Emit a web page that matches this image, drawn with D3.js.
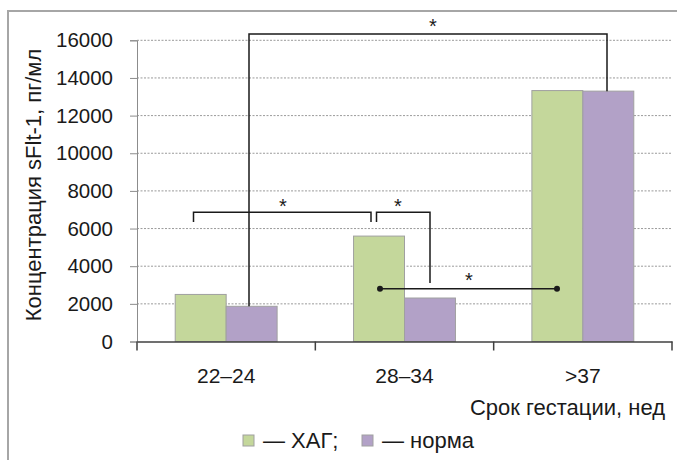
<!DOCTYPE html>
<html><head><meta charset="utf-8">
<script src="https://cdn.jsdelivr.net/npm/d3@7/dist/d3.min.js"></script>
<style>body{margin:0;background:#fff;} svg{display:block;} text{font-family:"Liberation Sans",Arial,sans-serif;fill:#1a1a1a;}</style>
</head><body>
<svg id="c" width="677" height="460"></svg>
<script>
const categories = ["22–24", "28–34", ">37"];
const seriesNames = ["— ХАГ;", "— норма"];
const hag = [2500, 5600, 13330];
const norma = [1870, 2310, 13300];
const yTicks = [0, 2000, 4000, 6000, 8000, 10000, 12000, 14000, 16000];
const colors = ["#c4d79b", "#b2a1c7"];

const svg = d3.select("#c");
// frame
svg.append("path").attr("d","M8,460 V11 H677").attr("fill","none").attr("stroke","#a6a6a6").attr("stroke-width",2);

const x0 = 137, x1 = 672, yTop = 40.3, yBot = 341.5;
const x = d3.scaleBand().domain(categories).range([x0, x1]).paddingInner(0).paddingOuter(0);
const y = d3.scaleLinear().domain([0, 16000]).range([yBot, yTop]);
const inner = d3.scaleBand().domain([0,1]).range([0, x.bandwidth()]).paddingOuter(0.75).paddingInner(0);

// gridlines
svg.append("g").selectAll("line").data(yTicks.filter(d=>d>0)).join("line")
  .attr("x1", x0).attr("x2", x1).attr("y1", d=>y(d)).attr("y2", d=>y(d))
  .attr("stroke","#9a9a9a").attr("stroke-width",1).attr("stroke-dasharray","2,1.5");

// y axis
const ya = svg.append("g").attr("transform",`translate(${x0},0)`)
  .call(d3.axisLeft(y).tickValues(yTicks).tickSize(7).tickPadding(17).tickFormat(d3.format("d")));
ya.select(".domain").attr("stroke","#8c8c8c");
ya.selectAll(".tick line").attr("stroke","#8c8c8c");
ya.selectAll("text").attr("font-size",20.5).attr("font-family","Liberation Sans, Arial, sans-serif").attr("fill","#1a1a1a");

// bars
const data = categories.map((c,i)=>({c, vals:[hag[i], norma[i]]}));
const g = svg.append("g");
data.forEach(d=>{
  d.vals.forEach((v,j)=>{
    g.append("rect").attr("x", x(d.c)+inner(j)).attr("width", inner.bandwidth())
      .attr("y", y(v)).attr("height", yBot - y(v))
      .attr("fill", colors[j]).attr("stroke","#a0a0a0").attr("stroke-width",1);
  });
});

// x axis
const xa = svg.append("g").attr("transform",`translate(0,${yBot})`)
  .call(d3.axisBottom(x).tickSize(0).tickPadding(27));
xa.select(".domain").attr("stroke","#404040").attr("stroke-width",1.5);
xa.selectAll("text").attr("font-size",21).attr("font-family","Liberation Sans, Arial, sans-serif").attr("fill","#1a1a1a");
// category boundary ticks
svg.append("g").selectAll("line").data([0,1,2,3]).join("line")
  .attr("x1", i=> i<3 ? x(categories[i]) : x1).attr("x2", i=> i<3 ? x(categories[i]) : x1)
  .attr("y1", yBot).attr("y2", yBot+9).attr("stroke","#404040").attr("stroke-width",1.5);

// axis titles
svg.append("text").attr("x",665).attr("y",415).attr("text-anchor","end").attr("font-size",22).text("Срок гестации, нед");
svg.append("text").attr("transform","translate(41,185) rotate(-90)").attr("text-anchor","middle").attr("font-size",22).text("Концентрация sFlt-1, пг/мл");

// legend
const leg = [{x:243, name:seriesNames[0], c:colors[0]},{x:362, name:seriesNames[1], c:colors[1]}];
leg.forEach(l=>{
  svg.append("rect").attr("x",l.x).attr("y",435).attr("width",11).attr("height",11).attr("fill",l.c).attr("stroke","#a0a0a0");
  svg.append("text").attr("x",l.x+20).attr("y",448).attr("font-size",22).text(l.name);
});

// significance annotations
const ln = {stroke:"#1a1a1a", "stroke-width":1.5, fill:"none"};
function path(d){ const p = svg.append("path").attr("d",d); Object.entries(ln).forEach(([k,v])=>p.attr(k,v)); return p; }
// big bracket 22-24 norma vs >37 norma
path(`M${249},${y(norma[0])} V34 H${607} V${y(norma[2])}`);
svg.append("text").attr("x",433).attr("y",33).attr("text-anchor","middle").attr("font-size",20).text("*");
// bracket A
path(`M193.5,222 V212.3 H371 V222`);
svg.append("text").attr("x",283).attr("y",213).attr("text-anchor","middle").attr("font-size",20).text("*");
// bracket B
path(`M376.5,222 V212.3 H430 V283`);
svg.append("text").attr("x",398).attr("y",213).attr("text-anchor","middle").attr("font-size",20).text("*");
// dot line
path(`M380,288.7 H557`);
[380,557].forEach(cx=>svg.append("circle").attr("cx",cx).attr("cy",288.7).attr("r",3).attr("fill","#1a1a1a"));
svg.append("text").attr("x",469).attr("y",287).attr("text-anchor","middle").attr("font-size",20).text("*");
</script>
</body></html>
